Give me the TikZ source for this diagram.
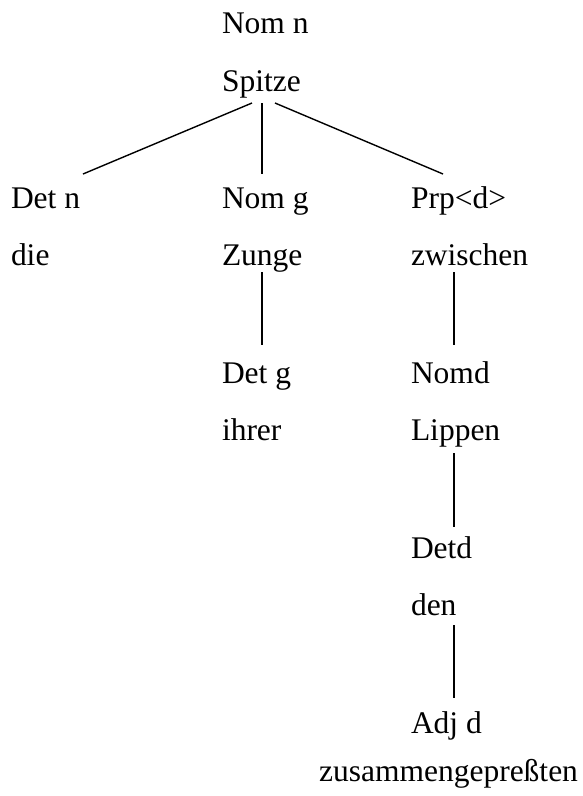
\documentclass[tikz,border=0pt]{standalone}
\usepackage{fontspec}
\setmainfont{Liberation Serif}
\begin{document}
\begin{tikzpicture}[x=1pt,y=-1pt,
  lbl/.style={anchor=base west,inner sep=0pt,outer sep=0pt,font=\fontsize{31.5}{36}\selectfont},
  wrd/.style={anchor=base,inner sep=0pt,outer sep=0pt,font=\fontsize{31.5}{36}\selectfont},
  edge/.style={line width=1.4pt,black}]
\useasboundingbox[fill=white] (0,0) rectangle (582,796);
% text nodes
\node[lbl] (nomn) at (222,33) {Nom n};
\node[lbl] (spitze) at (222,91) {Spitze};
\node[lbl] (detn) at (11,208) {Det n};
\node[lbl] (die) at (11,265) {die};
\node[lbl] (nomg) at (222,208) {Nom g};
\node[lbl] (zunge) at (222,265) {Zunge};
\node[lbl] (prp) at (411,208) {Prp<d>};
\node[lbl] (zwischen) at (411,265) {zwischen};
\node[lbl] (detg) at (222,383) {Det g};
\node[lbl] (ihrer) at (222,440) {ihrer};
\node[lbl] (nomd) at (411,383) {Nomd};
\node[lbl] (lippen) at (411,440) {Lippen};
\node[lbl] (detd) at (411,558) {Detd};
\node[lbl] (den) at (411,615) {den};
\node[lbl] (adjd) at (411,733) {Adj d};
\node[wrd] (zus) at (448.5,781) {zusammengepreßten};
% connector end points
\coordinate (s1) at (252,103);
\coordinate (s2) at (262,103);
\coordinate (s3) at (275,103);
\coordinate (t1) at (83,174);
\coordinate (t2) at (262,174);
\coordinate (t3) at (443,174);
\coordinate (zu) at (262,272);
\coordinate (dg) at (262,345);
\coordinate (zw) at (454,272);
\coordinate (nd) at (454,345);
\coordinate (li) at (454,453);
\coordinate (dd) at (454,527);
\coordinate (de) at (454,625);
\coordinate (ad) at (454,698);
% connectors
\draw[edge] (s1) -- (t1);
\draw[edge] (s2) -- (t2);
\draw[edge] (s3) -- (t3);
\draw[edge] (zu) -- (dg);
\draw[edge] (zw) -- (nd);
\draw[edge] (li) -- (dd);
\draw[edge] (de) -- (ad);
\end{tikzpicture}
\end{document}
